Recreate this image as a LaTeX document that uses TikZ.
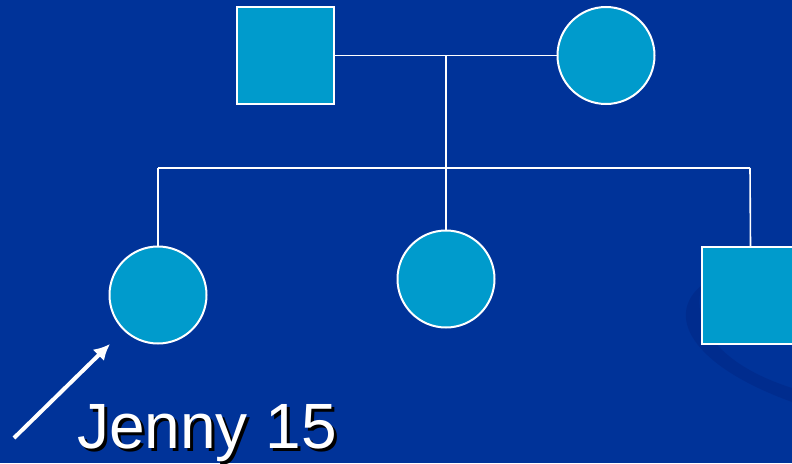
\documentclass[tikz,border=0pt]{standalone}
\usepackage{fontspec}
\setmainfont{Liberation Sans}
\usetikzlibrary{arrows.meta}
\definecolor{slidebg}{RGB}{0,51,153}
\definecolor{swoosh}{RGB}{0,42,138}
\definecolor{member}{RGB}{0,155,204}
\begin{document}
\begin{tikzpicture}[x=1pt,y=-1pt,
  male/.style={draw=white,line width=2pt,fill=member,minimum size=97pt,inner sep=0pt,rectangle},
  female/.style={draw=white,line width=2pt,fill=member,minimum size=97pt,inner sep=0pt,circle},
  link/.style={draw=white,line width=1.6pt},
  pointer/.style={draw=white,line width=4pt,-{Latex[length=16pt,width=16pt]}}]
\useasboundingbox (0,0) rectangle (792,463);
\clip (0,0) rectangle (792,463);
\fill[slidebg] (0,0) rectangle (792,463);
% faint background swoosh
\fill[swoosh,opacity=0.7] (702,285) .. controls (665,315) and (690,365) .. (792,402)
  -- (792,388) .. controls (720,365) and (690,325) .. (702,285) -- cycle;
% parents
\node[male] (father) at (285.5,55.5) {};
\node[female] (mother) at (606,55.5) {};
% children
\node[female] (jenny) at (158,295) {};
\node[female] (sister) at (446,279) {};
\node[male] (brother) at (750.5,295.5) {};
% marriage and sibship lines
\coordinate (mid) at (446,56);
\coordinate (sib) at (446,168);
\coordinate (sibL) at (158,168);
\coordinate (sibR) at (750,168);
\draw[link] (father.east) -- (mother.west);
\draw[link] (mid) -- (sib);
\draw[link] (sibL) -- (sibR);
\draw[link] (sibL) -- (jenny.north);
\draw[link] (sib) -- (sister.north);
\draw[link] (sibR) -- (brother.north);
% proband arrow and label with drop shadow
\coordinate (tail) at (14,438);
\draw[pointer] (tail) -- (110,344);
\node[anchor=base west,inner sep=0pt,text=white] (label) at (77,448)
  {\fontsize{64}{64}\selectfont\rlap{\kern3pt\raisebox{-3pt}{\color{black}Jenny 15}}Jenny 15};
\end{tikzpicture}
\end{document}
